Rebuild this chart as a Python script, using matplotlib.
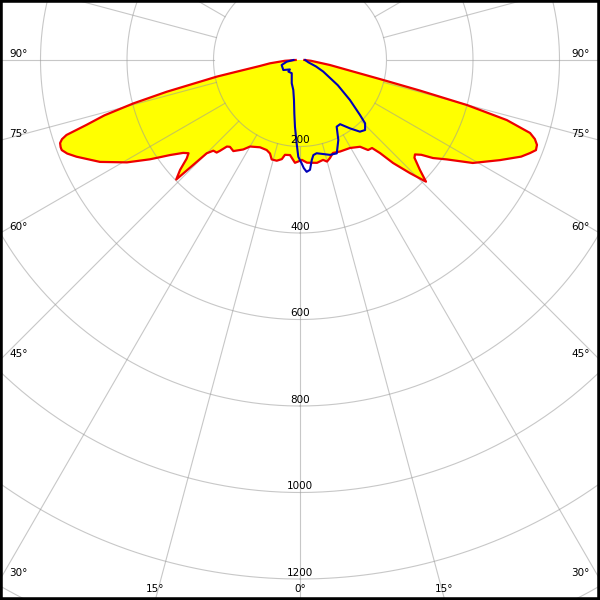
import numpy as np
import matplotlib
matplotlib.use("Agg")
import matplotlib.pyplot as plt
from matplotlib.patches import Rectangle

# ---------------------------------------------------------------------------
# DATA - luminous intensity (cd), gamma angle in degrees, 0 = straight down,
# negative = left half of the plane
# ---------------------------------------------------------------------------
c0_gamma = [-90, -87, -83.7, -81.5, -79.5, -78.7, -76.6, -75.4, -74.2, -73.1,
            -72.2, -71.6, -70.9, -70.0, -69.3, -68.1, -66.6, -63, -59.4, -56.5,
            -53.8, -51.5, -50.1, -49, -47.5, -46.0, -45.5, -45.0, -43.7, -42,
            -41.4, -40.2, -38.9, -36.2, -32.4, -30, -24.6, -20.3, -17.8, -15.9,
            -13, -10.4, -9, -6, -2.8, 0, 1.1, 3.9, 9.4, 13,
            14.9, 17, 19.5, 23.6, 29.6, 34.7, 37.1, 39.3, 40.7, 42.1,
            44.2, 46.0, 47.5, 49.5, 50.6, 52, 53.6, 55.9, 59.2, 63.4,
            66.4, 68, 69.1, 70.3, 71.4, 72.4, 73.8, 74.9, 75.7, 76.5,
            78, 80.5, 86, 90]
c0_cd = [10, 35, 70, 94, 151, 196, 317, 398, 470, 516,
         567, 580, 587, 589, 589, 580, 563, 519, 465, 416,
         372, 345, 336, 347, 376, 398, 345, 305, 290, 288,
         280, 262, 258, 261, 245, 231, 222, 222, 227, 239,
         239, 233, 222, 221, 238, 233, 231, 238, 241, 237,
         243, 237, 228, 231, 234, 244, 261, 263, 284, 321,
         365, 405, 376, 348, 344, 356, 382, 410, 465, 517,
         558, 574, 584, 582, 573, 558, 498, 400, 286, 197,
         117, 70, 25, 10]

c90_gamma = [-90, -82.7, -74.7, -59, -47, -45, -32, -19.6, -12.6, -8.5,
             -6, -4.3, -2.3, -1, 0.9, 2, 3.4, 5.2, 6.7, 8,
             10.1, 13.9, 17.5, 21.5, 25.6, 28.8, 32, 36.2, 39.9, 42.9,
             45.8, 47.5, 51.3, 56.3, 63.5, 68, 74.5, 90]
c90_cd = [15, 31, 44, 45, 32, 38, 36, 57, 71, 94,
          125, 155, 193, 224, 239, 250, 259, 255, 233, 222,
          219, 224, 230, 232, 205, 176, 175, 196, 216, 221,
          210, 188, 148, 105, 60, 40, 20, 12]

ring_values = [200, 400, 600, 800, 1000, 1200, 1400]
ring_labels = ["200", "400", "600", "800", "1000", "1200"]
spoke_angles = np.arange(0, 360, 15)

# ---------------------------------------------------------------------------
# LAYOUT - polar centre sits near the top of the picture
# ---------------------------------------------------------------------------
W = H = 600
CX, CY = 300, 60            # centre in pixels (from top-left)
PX_PER_CD = 86.5 / 200.0
RMAX = 1500
rad_px = RMAX * PX_PER_CD

fig = plt.figure(figsize=(6, 6), dpi=100)
rect = [(CX - rad_px) / W, (H - CY - rad_px) / H, 2 * rad_px / W, 2 * rad_px / H]
ax = fig.add_axes(rect, projection="polar")
ax.set_theta_zero_location("S")
ax.set_theta_direction(1)
ax.set_ylim(0, RMAX)
ax.set_xticks([])
ax.set_yticks([])
ax.grid(False)
ax.spines["polar"].set_visible(False)
ax.patch.set_facecolor("white")

th_red = np.radians(c0_gamma)
th_blue = np.radians(c90_gamma)

# ---- yellow fill of the C0-C180 curve ----
ax.fill(th_red, c0_cd, color="#ffff00", lw=0, zorder=1)

# ---- grid: rings and spokes (spokes start at the first ring) ----
full = np.linspace(0, 2 * np.pi, 721)
for rv in ring_values:
    ax.plot(full, np.full_like(full, rv), color="#9a9a9a", lw=0.8,
            alpha=0.55, zorder=2)
for a in spoke_angles:
    t = np.radians(a)
    ax.plot([t, t], [200, RMAX], color="#9a9a9a", lw=0.8, alpha=0.55, zorder=2)

# ---- curves ----
ax.plot(th_red, c0_cd, color="#ee0000", lw=1.6, zorder=3)
ax.plot(th_blue, c90_cd, color="#0000b8", lw=1.5, zorder=4)

# ---- ring labels along the 0 deg spoke ----
for rv, lab in zip(ring_values, ring_labels):
    ax.text(0, rv - 15, lab, ha="center", va="center", fontsize=7.5,
            color="black", zorder=5)

# ---- angle labels at the edges of the picture ----
def ftext(x, y, s, ha):
    fig.text(x / W, 1 - y / H, s, ha=ha, va="center", fontsize=7.5, color="black")

side_labels = [("90°", 54), ("75°", 134), ("60°", 227), ("45°", 354), ("30°", 573)]
for lab, y in side_labels:
    ftext(9, y, lab, "left")
    ftext(590, y, lab, "right")

bottom_labels = [("15°", 155), ("0°", 300), ("15°", 444)]
for lab, x in bottom_labels:
    ftext(x, 589, lab, "center")

# ---- black frame ----
fig.patches.append(Rectangle((0, 0), 1, 1, transform=fig.transFigure,
                             fill=False, ec="black", lw=4, zorder=10))

fig.savefig("out.png", dpi=100)
